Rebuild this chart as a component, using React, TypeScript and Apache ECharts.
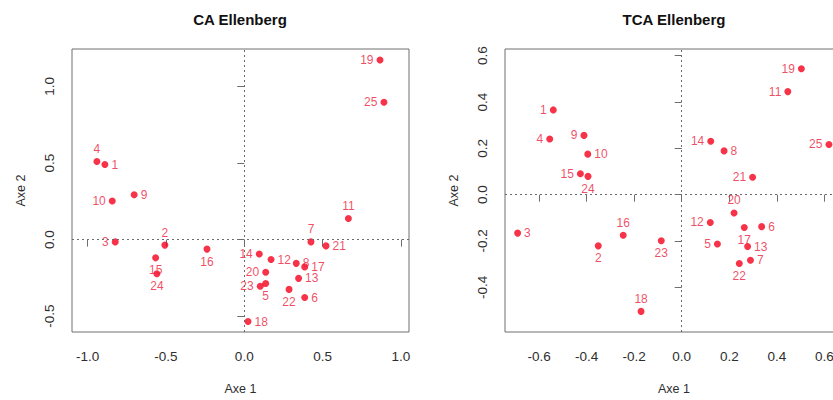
import React, { useEffect, useRef } from "react";
import * as echarts from "echarts";

// ---------- Data ----------
const caIds = ["1","2","3","4","5","6","7","8","9","10","11","12","13","14","15","16","17","18","19","20","21","22","23","24","25"];
const caX = [-0.890,-0.507,-0.824,-0.941,0.137,0.386,0.426,0.332,-0.703,-0.843,0.665,0.171,0.347,0.096,-0.566,-0.238,0.386,0.024,0.867,0.137,0.522,0.286,0.102,-0.558,0.892];
const caY = [0.490,-0.036,-0.015,0.510,-0.287,-0.378,-0.015,-0.155,0.293,0.252,0.138,-0.130,-0.253,-0.094,-0.119,-0.062,-0.178,-0.535,1.172,-0.213,-0.041,-0.325,-0.304,-0.223,0.896];
const caPos = ["right","top","left","top","bottom","right","top","right","right","left","top","right","right","left","bottom","bottom","right","right","left","left","right","bottom","left","bottom","left"];

const tcaIds = caIds;
const tcaX = [-0.540,-0.351,-0.690,-0.555,0.150,0.336,0.289,0.178,-0.411,-0.395,0.446,0.120,0.277,0.122,-0.426,-0.246,0.263,-0.171,0.503,0.220,0.298,0.242,-0.086,-0.394,0.619];
const tcaY = [0.366,-0.221,-0.166,0.240,-0.213,-0.138,-0.283,0.189,0.256,0.175,0.445,-0.120,-0.224,0.231,0.090,-0.175,-0.142,-0.504,0.544,-0.079,0.075,-0.297,-0.199,0.079,0.217];
const tcaPos = ["left","bottom","right","left","left","right","right","right","left","right","left","left","right","left","left","top","bottom","top","left","top","left","bottom","bottom","bottom","left"];

const caXTicks = [-1.0, -0.5, 0.0, 0.5, 1.0];
const caYTicks = [-0.5, 0.0, 0.5, 1.0];
const tcaXTicks = [-0.6, -0.4, -0.2, 0.0, 0.2, 0.4, 0.6];
const tcaYTicks = [-0.4, -0.2, 0.0, 0.2, 0.4, 0.6];

const titles = ["CA Ellenberg", "TCA Ellenberg"];

const FONT = "Liberation Sans, Arial, Helvetica, sans-serif";
const POINT = "#f5001c";
const LABEL = "#ec1c3c";
const BOX = "#6e6e6e";
const TXT = "#2e2e2e";

function buildData(ids: string[], xs: number[], ys: number[], pos: string[]) {
  return ids.map((id, i) => ({
    name: id,
    value: [xs[i], ys[i]],
    label: { position: pos[i] },
  }));
}

function xAxis(idx: number, min: number, max: number, ticks: number[]) {
  return {
    type: "value",
    gridIndex: idx,
    min,
    max,
    splitLine: { show: false },
    axisLine: { show: false },
    axisTick: { show: true, inside: false, length: 7, lineStyle: { color: BOX }, customValues: ticks },
    axisLabel: {
      show: true,
      customValues: ticks,
      margin: 17,
      color: TXT,
      fontSize: 13.5,
      fontFamily: FONT,
      formatter: (v: number) => v.toFixed(1),
    },
    name: "Axe 1",
    nameLocation: "middle",
    nameGap: 50,
    nameTextStyle: { color: TXT, fontSize: 12.5, fontFamily: FONT },
  };
}

function yAxis(idx: number, min: number, max: number, ticks: number[]) {
  return {
    type: "value",
    gridIndex: idx,
    min,
    max,
    splitLine: { show: false },
    axisLine: { show: false },
    axisTick: { show: true, inside: false, length: 7, lineStyle: { color: BOX }, customValues: ticks },
    axisLabel: {
      show: true,
      customValues: ticks,
      rotate: 90,
      margin: 16,
      color: TXT,
      fontSize: 13.5,
      fontFamily: FONT,
      formatter: (v: number) => v.toFixed(1),
    },
    name: "Axe 2",
    nameLocation: "middle",
    nameGap: 45,
    nameRotate: 90,
    nameTextStyle: { color: TXT, fontSize: 12.5, fontFamily: FONT },
  };
}

function series(idx: number, data: any[]) {
  return {
    type: "scatter",
    xAxisIndex: idx,
    yAxisIndex: idx,
    symbol: "circle",
    symbolSize: 7,
    itemStyle: { color: POINT },
    label: {
      show: true,
      formatter: (p: any) => p.name,
      color: LABEL,
      fontSize: 12,
      fontFamily: FONT,
      distance: 3,
    },
    data,
    markLine: {
      silent: true,
      symbol: ["none", "none"],
      label: { show: false },
      lineStyle: { color: "#6a6a6a", width: 1, type: [2, 3] },
      data: [{ xAxis: 0 }, { yAxis: 0 }],
    },
  };
}

export default function App() {
  const ref = useRef<HTMLDivElement>(null);
  useEffect(() => {
    if (!ref.current) return;
    const chart = echarts.init(ref.current, null, { renderer: "svg" });
    chart.setOption({
      animation: false,
      backgroundColor: "#fff",
      grid: [
        { left: 72, top: 49, width: 337, height: 290, show: true, borderColor: BOX, borderWidth: 1, backgroundColor: "transparent" },
        { left: 505, top: 49, width: 338, height: 289, show: true, borderColor: BOX, borderWidth: 1, backgroundColor: "transparent" },
      ],
      xAxis: [xAxis(0, -1.1, 1.052, caXTicks), xAxis(1, -0.743, 0.678, tcaXTicks)],
      yAxis: [yAxis(0, -0.603, 1.244, caYTicks), yAxis(1, -0.593, 0.629, tcaYTicks)],
      graphic: [
        { type: "text", x: 240, y: 19, style: { text: titles[0], fill: "#111", font: `bold 15px ${FONT}`, textAlign: "center", textVerticalAlign: "middle" } },
        { type: "text", x: 674, y: 19, style: { text: titles[1], fill: "#111", font: `bold 15px ${FONT}`, textAlign: "center", textVerticalAlign: "middle" } },
      ],
      series: [
        series(0, buildData(caIds, caX, caY, caPos)),
        series(1, buildData(tcaIds, tcaX, tcaY, tcaPos)),
      ],
    });
    return () => chart.dispose();
  }, []);
  return (
    <div style={{ position: "fixed", left: 0, top: 0, width: 833, height: 400, overflow: "hidden", background: "#fff" }}>
      <div ref={ref} style={{ width: 870, height: 400 }} />
    </div>
  );
}
